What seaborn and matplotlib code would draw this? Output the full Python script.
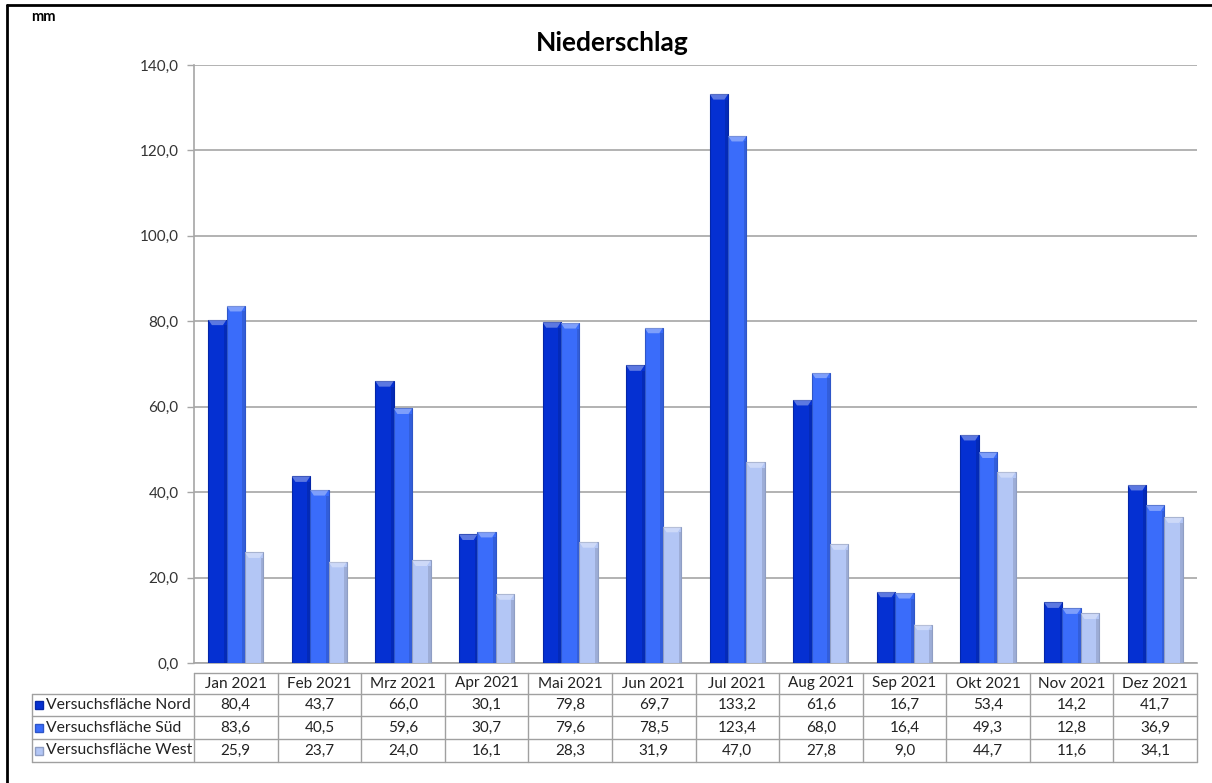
import matplotlib
matplotlib.use("Agg")
import matplotlib.pyplot as plt
from matplotlib.patches import Rectangle, Polygon
from matplotlib.transforms import blended_transform_factory
import seaborn as sns
import pandas as pd

months = ["Jan 2021", "Feb 2021", "Mrz 2021", "Apr 2021", "Mai 2021", "Jun 2021",
          "Jul 2021", "Aug 2021", "Sep 2021", "Okt 2021", "Nov 2021", "Dez 2021"]
series = ["Versuchsfläche Nord", "Versuchsfläche Süd", "Versuchsfläche West"]
nord = [80.4, 43.7, 66.0, 30.1, 79.8, 69.7, 133.2, 61.6, 16.7, 53.4, 14.2, 41.7]
sued = [83.6, 40.5, 59.6, 30.7, 79.6, 78.5, 123.4, 68.0, 16.4, 49.3, 12.8, 36.9]
west = [25.9, 23.7, 24.0, 16.1, 28.3, 31.9, 47.0, 27.8, 9.0, 44.7, 11.6, 34.1]
colors = ["#0530D2", "#3A6CFA", "#B3C6F5"]
yticks = [0, 20, 40, 60, 80, 100, 120, 140]

values = [nord, sued, west]
df = pd.DataFrame({
    "Monat": months * 3,
    "Serie": [s for s in series for _ in months],
    "Wert": nord + sued + west,
})

sns.set_theme(style="white")
plt.rcParams["font.family"] = ["Lato", "DejaVu Sans"]

W, H = 1212, 783
fig = plt.figure(figsize=(W / 100, H / 100), dpi=100)
ax = fig.add_axes([194 / W, 1 - 663 / H, (1197 - 194) / W, (663 - 65) / H])

sns.barplot(data=df, x="Monat", y="Wert", hue="Serie", order=months,
            hue_order=series, palette=colors, width=0.66, saturation=1,
            dodge=True, legend=False, ax=ax, zorder=3)

# bevel effect on every bar: darker outline and a light cap at the top
for patch in list(ax.patches):
    x0, y0 = patch.get_x(), patch.get_y()
    w, h = patch.get_width(), patch.get_height()
    fc = patch.get_facecolor()
    patch.set_edgecolor(tuple(c * 0.8 for c in fc[:3]) + (1,))
    patch.set_linewidth(0.8)
    cap = 1.3
    ax.add_patch(Polygon([(x0, y0 + h), (x0 + w, y0 + h),
                          (x0 + w * 0.8, y0 + h - cap), (x0 + w * 0.2, y0 + h - cap)],
                         closed=True, facecolor=(1, 1, 1, 0.35), edgecolor="none", zorder=4))
    ax.add_patch(Rectangle((x0 + w * 0.85, y0), w * 0.15, h - cap,
                           facecolor=(0, 0, 0, 0.12), edgecolor="none", zorder=4))

ax.set_xlim(-0.5, len(months) - 0.5)
ax.set_ylim(0, 140)
ax.set_yticks(yticks)
ax.set_yticklabels([f"{v:.1f}".replace(".", ",") for v in yticks], fontsize=11, color="#333333")
ax.set_xticks([])
ax.set_xlabel("")
ax.set_ylabel("")
ax.yaxis.grid(True, color="#A6A6A6", linewidth=1.2, zorder=0)
ax.tick_params(axis="y", which="both", left=True, length=5, width=1, color="#A6A6A6", pad=6)
for side in ["top", "right"]:
    ax.spines[side].set_visible(False)
for side in ["left", "bottom"]:
    ax.spines[side].set_color("#A6A6A6")
    ax.spines[side].set_linewidth(1.2)

fig.text(612 / W, 1 - 43 / H, "Niederschlag", ha="center", va="center",
         fontsize=19, fontweight="bold", color="black")
fig.text(31 / W, 1 - 17 / H, "mm", ha="left", va="center",
         fontsize=10.5, fontweight="bold", color="black")

# data table under the plot area
tr = blended_transform_factory(ax.transData, fig.transFigure)
fy = lambda py: 1 - py / H
fx = lambda px: px / W
row_top = [673, 694, 716, 739, 762]
grid_c = "#A0A0A0"
lw = 1.0
fig.add_artist(plt.Line2D([-0.5, len(months) - 0.5], [fy(row_top[0])] * 2,
                          transform=tr, color=grid_c, lw=lw))
for yy in row_top[1:]:
    fig.add_artist(plt.Line2D([fx(32), fx(1197)], [fy(yy)] * 2, color=grid_c, lw=lw))
fig.add_artist(plt.Line2D([fx(32)] * 2, [fy(row_top[1]), fy(row_top[-1])], color=grid_c, lw=lw))
for i in range(len(months) + 1):
    fig.add_artist(plt.Line2D([i - 0.5] * 2, [fy(row_top[0]), fy(row_top[-1])],
                              transform=tr, color=grid_c, lw=lw))

for i, m in enumerate(months):
    fig.text(i, fy((row_top[0] + row_top[1]) / 2), m, transform=tr,
             ha="center", va="center", fontsize=11, color="#222222")
for r, (name, vals, col) in enumerate(zip(series, values, colors)):
    yc = fy((row_top[r + 1] + row_top[r + 2]) / 2)
    fig.add_artist(Rectangle((fx(35), yc - 4 / H), 8 / W, 8 / H, facecolor=col,
                             edgecolor=tuple(c * 0.8 for c in matplotlib.colors.to_rgb(col))))
    fig.text(fx(46), yc, name, ha="left", va="center", fontsize=11.3, color="#222222")
    for i, v in enumerate(vals):
        fig.text(i, yc, f"{v:.1f}".replace(".", ","), transform=tr,
                 ha="center", va="center", fontsize=11, color="#222222")

# chart frame
fig.add_artist(plt.Line2D([fx(7), fx(7)], [0, fy(5)], color="black", lw=2))
fig.add_artist(plt.Line2D([fx(7), 1], [fy(5), fy(5)], color="black", lw=2))

fig.savefig("out.png", dpi=100)
